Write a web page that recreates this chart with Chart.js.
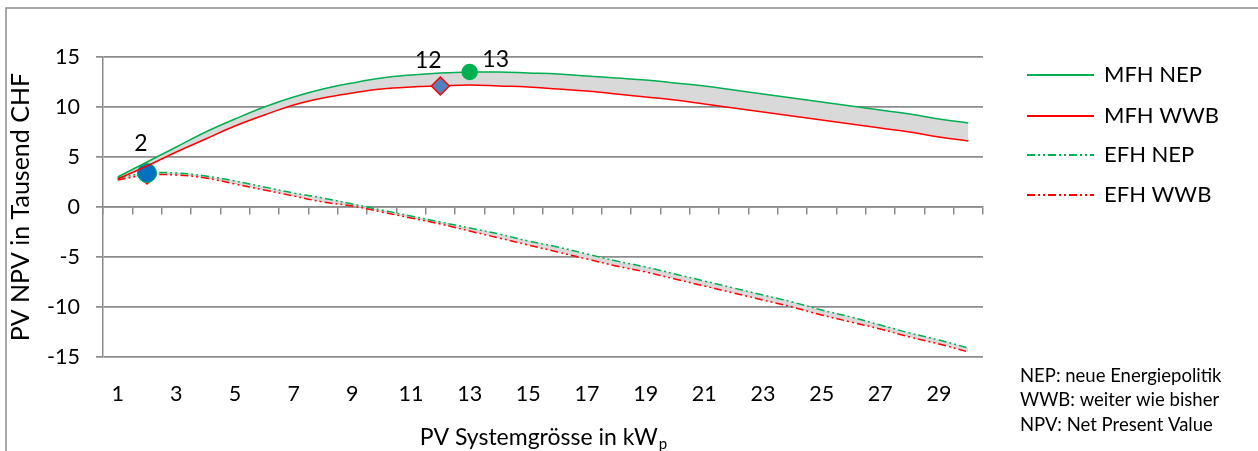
<!DOCTYPE html>
<html>
<head>
<meta charset="utf-8">
<script src="https://cdn.jsdelivr.net/npm/chart.js@4.4.0/dist/chart.umd.min.js"></script>
<style>
  html, body { margin: 0; padding: 0; background: #fff; }
  #wrap { position: relative; width: 1258px; height: 451px; }
</style>
</head>
<body>
<div id="wrap"><canvas id="npvChart" width="1258" height="451"></canvas></div>
<script>
// PV system size (kWp)
const sizes = [1, 2, 3, 4, 5, 6, 7, 8, 9, 10, 11, 12, 13, 14, 15, 16, 17, 18, 19, 20, 21, 22, 23, 24, 25, 26, 27, 28, 29, 30];

// NPV in thousand CHF
const mfhNep = [3.0, 4.5, 6.0, 7.5, 8.8, 10.0, 11.0, 11.8, 12.4, 12.9, 13.2, 13.4, 13.5, 13.5, 13.4, 13.3, 13.1, 12.9, 12.7, 12.4, 12.1, 11.7, 11.3, 10.9, 10.5, 10.1, 9.7, 9.3, 8.8, 8.4];
const mfhWwb = [2.8, 4.1, 5.5, 6.8, 8.1, 9.2, 10.2, 10.9, 11.4, 11.8, 12.0, 12.1, 12.2, 12.1, 12.0, 11.8, 11.6, 11.3, 11.0, 10.7, 10.3, 9.9, 9.5, 9.1, 8.7, 8.3, 7.9, 7.5, 7.0, 6.6];
const efhNep = [2.9, 3.4, 3.4, 3.1, 2.6, 2.0, 1.4, 0.9, 0.3, -0.3, -0.9, -1.5, -2.1, -2.7, -3.4, -4.0, -4.7, -5.4, -6.0, -6.7, -7.4, -8.1, -8.8, -9.5, -10.3, -11.0, -11.8, -12.6, -13.3, -14.1];
const efhWwb = [2.7, 3.2, 3.2, 2.9, 2.3, 1.7, 1.1, 0.5, 0.1, -0.5, -1.1, -1.7, -2.4, -3.1, -3.8, -4.5, -5.2, -5.9, -6.5, -7.2, -7.9, -8.6, -9.3, -10.0, -10.8, -11.5, -12.2, -13.0, -13.7, -14.5];

const yTicks = [-15, -10, -5, 0, 5, 10, 15];
const seriesNames = ['MFH NEP', 'MFH WWB', 'EFH NEP', 'EFH WWB'];
const notes = ['NEP: neue Energiepolitik', 'WWB: weiter wie bisher', 'NPV: Net Present Value'];

// highlighted optimum points: dataset index, point index, label
const markSeries = [2, 1, 0];
const markIndex = [1, 11, 12];
const markText = ['2', '12', '13'];

const GREEN = '#00b050';
const RED = '#ff0000';
const GRID = '#8c8c8c';
const FONT = 'Lato, "Open Sans", sans-serif';
const DASH = [8, 3, 2, 3, 2, 3];

function radiusAt(idx, r) {
  return sizes.map((_, i) => (i === idx ? r : 0));
}

const decor = {
  id: 'decor',
  beforeDraw(chart) {
    const ctx = chart.ctx;
    ctx.save();
    ctx.strokeStyle = GRID;
    ctx.lineWidth = 1.5;
    ctx.beginPath();
    ctx.moveTo(6, 451);
    ctx.lineTo(6, 8);
    ctx.lineTo(1258, 8);
    ctx.stroke();
    ctx.restore();
  },
  afterDraw(chart) {
    const ctx = chart.ctx;
    const area = chart.chartArea;
    ctx.save();
    ctx.fillStyle = '#000';

    // point labels
    const offsets = [[-6, -29], [-12, -25], [26, -12]];
    ctx.font = '23px ' + FONT;
    ctx.textAlign = 'center';
    ctx.textBaseline = 'middle';
    markText.forEach((t, k) => {
      const el = chart.getDatasetMeta(markSeries[k]).data[markIndex[k]];
      ctx.fillText(t, el.x + offsets[k][0], el.y + offsets[k][1]);
    });

    // x axis title with subscript
    const main = 'PV Systemgrösse in kW';
    ctx.font = '23px ' + FONT;
    const w1 = ctx.measureText(main).width;
    ctx.font = '15px ' + FONT;
    const w2 = ctx.measureText('p').width;
    const cx = (area.left + area.right) / 2;
    const x0 = cx - (w1 + w2) / 2;
    ctx.textAlign = 'left';
    ctx.textBaseline = 'alphabetic';
    ctx.font = '23px ' + FONT;
    ctx.fillText(main, x0, 445);
    ctx.font = '15px ' + FONT;
    ctx.fillText('p', x0 + w1 + 1, 449);

    // legend
    const rows = [75, 116, 155, 195];
    chart.data.datasets.forEach((ds, i) => {
      ctx.strokeStyle = ds.borderColor;
      ctx.lineWidth = 2;
      ctx.setLineDash(ds.borderDash || []);
      ctx.beginPath();
      ctx.moveTo(1027, rows[i]);
      ctx.lineTo(1094, rows[i]);
      ctx.stroke();
      ctx.setLineDash([]);
      ctx.font = '22px ' + FONT;
      ctx.textBaseline = 'middle';
      ctx.fillText(ds.label, 1104, rows[i]);
    });

    // notes
    ctx.font = '18.5px ' + FONT;
    ctx.textBaseline = 'middle';
    notes.forEach((n, i) => ctx.fillText(n, 1020, 376 + i * 24.5));
    ctx.restore();
  }
};

new Chart(document.getElementById('npvChart'), {
  type: 'line',
  data: {
    labels: sizes,
    datasets: [
      {
        label: seriesNames[0],
        data: mfhNep,
        borderColor: GREEN,
        borderWidth: 1.5,
        tension: 0.4,
        fill: false,
        pointRadius: radiusAt(12, 7.5),
        pointStyle: 'circle',
        pointBackgroundColor: GREEN,
        pointBorderColor: GREEN
      },
      {
        label: seriesNames[1],
        data: mfhWwb,
        borderColor: RED,
        borderWidth: 1.5,
        tension: 0.4,
        fill: '-1',
        backgroundColor: '#d9d9d9',
        pointRadius: radiusAt(11, 9),
        pointStyle: 'rectRot',
        pointBackgroundColor: '#4f81bd',
        pointBorderColor: RED,
        pointBorderWidth: 1.5
      },
      {
        label: seriesNames[2],
        data: efhNep,
        borderColor: GREEN,
        borderWidth: 1.5,
        borderDash: DASH,
        tension: 0.4,
        fill: false,
        pointRadius: radiusAt(1, 9.5),
        pointStyle: 'circle',
        pointBackgroundColor: '#0070c0',
        pointBorderColor: GREEN,
        pointBorderWidth: 1
      },
      {
        label: seriesNames[3],
        data: efhWwb,
        borderColor: RED,
        borderWidth: 1.5,
        borderDash: DASH,
        tension: 0.4,
        fill: '-1',
        backgroundColor: '#d9d9d9',
        pointRadius: radiusAt(1, 9),
        pointStyle: 'rectRot',
        pointBackgroundColor: '#0070c0',
        pointBorderColor: RED,
        pointBorderWidth: 1.5
      }
    ]
  },
  options: {
    responsive: false,
    animation: false,
    layout: { padding: { left: 0, top: 57, right: 275, bottom: 0 } },
    plugins: {
      legend: { display: false },
      tooltip: { enabled: false },
      filler: { drawTime: 'beforeDatasetsDraw' }
    },
    scales: {
      x: {
        type: 'category',
        offset: true,
        grid: { display: false },
        border: { display: false },
        ticks: {
          autoSkip: false,
          maxRotation: 0,
          padding: 16,
          color: '#000',
          font: { family: FONT, size: 21.5 },
          callback: (v, i) => (i % 2 === 0 ? sizes[i] : '')
        },
        afterFit: s => { s.height = 94; }
      },
      x0: {
        type: 'category',
        labels: sizes,
        offset: true,
        position: { y: 0 },
        grid: { display: true, drawOnChartArea: false, drawTicks: true, tickLength: 7, color: GRID, lineWidth: 1.5, offset: true },
        border: { display: true, color: GRID, width: 1.5 },
        ticks: { display: false }
      },
      y: {
        min: -15,
        max: 15,
        afterBuildTicks: s => { s.ticks = yTicks.map(v => ({ value: v })); },
        grid: { color: GRID, lineWidth: 1.75, drawTicks: true, tickLength: 7 },
        border: { display: true, color: GRID, width: 1.5 },
        ticks: {
          padding: 16,
          color: '#000',
          font: { family: FONT, size: 21.5 }
        },
        title: {
          display: true,
          text: 'PV NPV in Tausend CHF',
          color: '#000',
          font: { family: FONT, size: 25 },
          padding: { top: 6, bottom: 0 }
        },
        afterFit: s => { s.width = 103; }
      }
    }
  },
  plugins: [decor]
});
</script>
</body>
</html>
